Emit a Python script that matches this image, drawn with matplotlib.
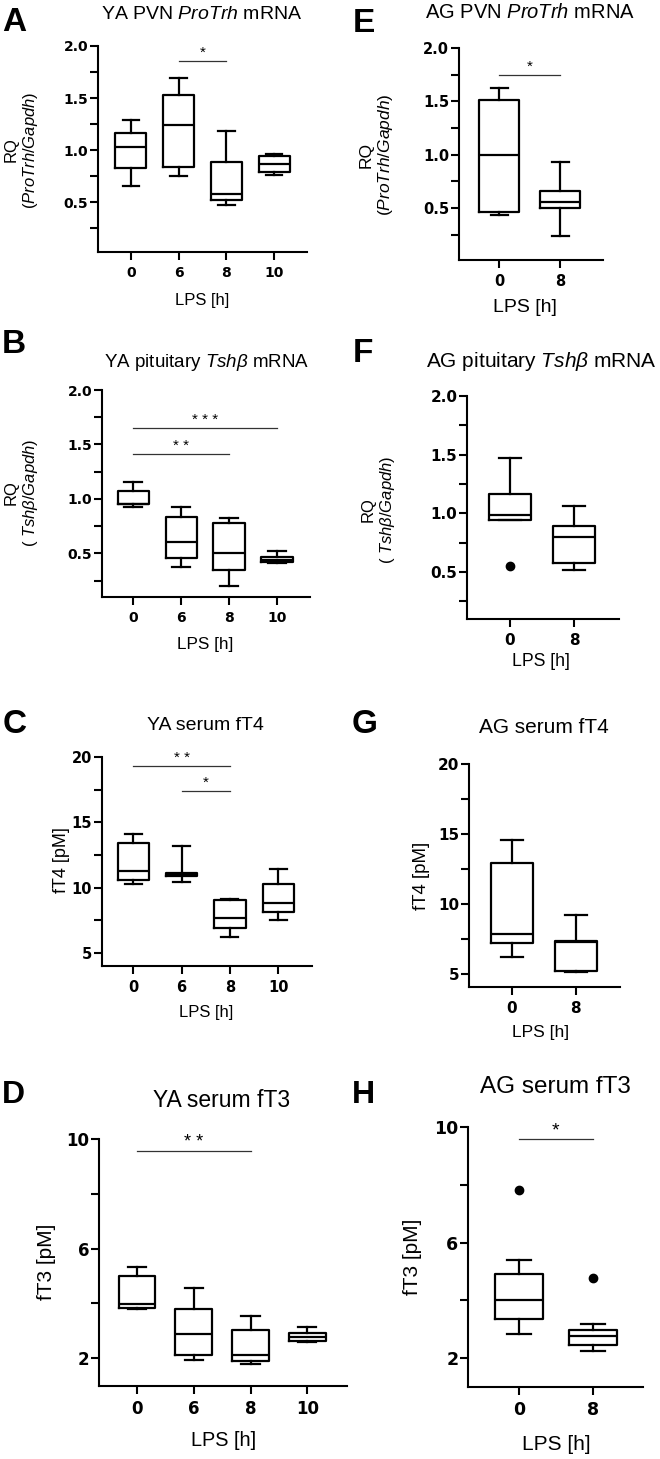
################################################
# LPS time course: ProTrh, Tshb, fT4, fT3
# young adult (YA) vs aged (AG)
################################################
import numpy as np
import matplotlib.pyplot as plt

plt.rcParams['font.family'] = 'Liberation Sans'
plt.rcParams['mathtext.fontset'] = 'custom'
plt.rcParams['mathtext.rm'] = 'Liberation Sans'
plt.rcParams['mathtext.it'] = 'Liberation Sans:italic'

################################################
# Data (box stats per group: whislo, q1, med, q3, whishi)

YA_hours = ["0", "6", "8", "10"]
AG_hours = ["0", "8"]

A_stats = [[0.65, 0.83, 1.03, 1.16, 1.29],
           [0.75, 0.84, 1.24, 1.53, 1.69],
           [0.47, 0.52, 0.575, 0.885, 1.18],
           [0.76, 0.785, 0.87, 0.94, 0.96]]
A_sig = [(1, 2, 1.86, "*")]

B_stats = [[0.93, 0.95, 0.955, 1.07, 1.155],
           [0.375, 0.455, 0.605, 0.83, 0.93],
           [0.205, 0.35, 0.50, 0.775, 0.825],
           [0.413, 0.42, 0.443, 0.47, 0.523]]
B_sig = [(0, 3, 1.65, "* * *"), (0, 2, 1.41, "* *")]

C_stats = [[10.3, 10.55, 11.3, 13.4, 14.1],
           [10.45, 10.9, 11.0, 11.15, 13.2],
           [6.25, 6.9, 7.7, 9.05, 9.15],
           [7.55, 8.1, 8.85, 10.3, 11.45]]
C_sig = [(0, 2, 19.3, "* *"), (1, 2, 17.4, "*")]

D_stats = [[3.8, 3.82, 3.97, 4.99, 5.32],
           [1.94, 2.10, 2.89, 3.81, 4.57],
           [1.77, 1.89, 2.13, 3.01, 3.52],
           [2.58, 2.64, 2.78, 2.90, 3.13]]
D_sig = [(0, 2, 9.57, "* *")]

E_stats = [[0.436, 0.467, 1.0, 1.514, 1.626],
           [0.237, 0.505, 0.555, 0.66, 0.931]]
E_sig = [(0, 1, 1.75, "*")]

F_stats = [[0.946, 0.946, 0.985, 1.164, 1.473],
           [0.52, 0.575, 0.80, 0.892, 1.065]]
F_fliers = [[0.55], []]

G_stats = [[6.17, 7.19, 7.86, 12.9, 14.55],
           [5.10, 5.21, 7.24, 7.31, 9.21]]

H_stats = [[2.85, 3.37, 4.02, 4.91, 5.40],
           [2.24, 2.47, 2.77, 2.98, 3.18]]
H_fliers = [[7.82], [4.76]]
H_sig = [(0, 1, 9.57, "*")]

################################################
# Figure

W, H = 660, 1459
fig = plt.figure(figsize=(W / 100, H / 100), dpi=100)


def fpos(x, y):
    return x / W, 1 - y / H


def panel(frame, xlim, ylim, hours, stats, major, minor, fmt,
          fliers=None, sig=(), capw=0.33, tick_fs=10, star_fs=11):
    l, r, t, b = frame
    ax = fig.add_axes([l / W, 1 - b / H, (r - l) / W, (b - t) / H])
    boxes = []
    for i, s in enumerate(stats):
        boxes.append(dict(whislo=s[0], q1=s[1], med=s[2], q3=s[3],
                          whishi=s[4], fliers=fliers[i] if fliers else []))
    lw = 1.6
    ax.bxp(boxes, positions=range(len(hours)), widths=0.65, capwidths=capw,
           boxprops=dict(color='black', linewidth=lw),
           medianprops=dict(color='black', linewidth=lw),
           whiskerprops=dict(color='black', linewidth=lw),
           capprops=dict(color='black', linewidth=lw),
           flierprops=dict(marker='o', markerfacecolor='black',
                           markeredgecolor='black', markersize=6),
           manage_ticks=False)
    for (i, j, y, s) in sig:
        ax.plot([i, j], [y, y], color='#333333', lw=0.9)
        ax.annotate(s, ((i + j) / 2, y), xytext=(0, 3), textcoords='offset points',
                    ha='center', va='baseline', fontsize=star_fs)
    ax.set_xlim(*xlim)
    ax.set_ylim(*ylim)
    ax.set_xticks(range(len(hours)))
    ax.set_xticklabels(hours)
    ax.set_yticks(major)
    ax.set_yticklabels([fmt % v for v in major])
    ax.set_yticks(minor, minor=True)
    for side in ['top', 'right']:
        ax.spines[side].set_visible(False)
    for side in ['left', 'bottom']:
        ax.spines[side].set_linewidth(1.5)
    ax.tick_params(axis='y', which='both', direction='out', length=6, width=1.5, pad=1)
    ax.tick_params(axis='x', which='both', direction='out', length=6, width=1.5, pad=4)
    for lbl in ax.get_xticklabels() + ax.get_yticklabels():
        lbl.set_fontfamily('DejaVu Sans')
        lbl.set_fontweight('bold')
        lbl.set_fontsize(tick_fs)
    return ax


def labels(letter, letter_xy, letter_fs, title, title_xy, title_fs,
           ylab, ylab_xy, ylab_fs, xlab_xy, xlab_fs):
    fig.text(*fpos(*letter_xy), letter, fontsize=letter_fs, fontweight='bold', va='baseline')
    fig.text(*fpos(*title_xy), title, fontsize=title_fs, ha='center', va='baseline')
    fig.text(*fpos(*ylab_xy), ylab, fontsize=ylab_fs, rotation=90, ha='center',
             va='center', multialignment='center', linespacing=1.15)
    fig.text(*fpos(*xlab_xy), "LPS [h]", fontsize=xlab_fs, ha='center', va='center')


RQ_trh = "RQ\n($\\mathit{ProTrh/Gapdh}$)"
RQ_tsh = "RQ\n( $\\mathit{Tsh\\beta/Gapdh}$)"

# left column: young adults
panel((98, 307, 46, 252), (-0.69, 3.69), (0.02, 2.0), YA_hours, A_stats,
      [0.5, 1.0, 1.5, 2.0], [0.25, 0.75, 1.25, 1.75], "%.1f",
      sig=A_sig, capw=0.35)
labels("A", (2, 31), 24, "YA PVN $\\mathit{ProTrh}$ mRNA", (202, 19), 14,
       RQ_trh, (22, 150), 12, (202, 300), 12)

panel((102, 310, 390, 597), (-0.65, 3.69), (0.1, 2.0), YA_hours, B_stats,
      [0.5, 1.0, 1.5, 2.0], [0.25, 0.75, 1.25, 1.75], "%.1f",
      sig=B_sig, capw=0.38)
labels("B", (2, 353), 24, "YA pituitary $\\mathit{Tsh\\beta}$ mRNA", (207, 367), 13.5,
       RQ_tsh, (22, 493), 12, (205, 645), 12.3)

panel((102, 312, 757, 966), (-0.65, 3.7), (4, 20), YA_hours, C_stats,
      [5, 10, 15, 20], [7.5, 12.5, 17.5], "%d",
      sig=C_sig, capw=0.35, tick_fs=10.5)
labels("C", (3, 733), 24, "YA serum fT4", (205, 730), 14,
       "fT4 [pM]", (62, 860), 13, (206, 1012), 12)

panel((99, 347, 1139, 1386), (-0.67, 3.7), (0.98, 10), YA_hours, D_stats,
      [2, 6, 10], [4, 8], "%d",
      sig=D_sig, capw=0.32, tick_fs=12, star_fs=13)
labels("D", (2, 1103), 23, "YA serum fT3", (222, 1107), 16.5,
       "fT3 [pM]", (47, 1262), 15, (224, 1440), 14.3)

# right column: aged
panel((459, 603, 48, 260), (-0.66, 1.7), (0.014, 2.0), AG_hours, E_stats,
      [0.5, 1.0, 1.5, 2.0], [0.25, 0.75, 1.25, 1.75], "%.1f",
      sig=E_sig, capw=0.28, tick_fs=10.5)
labels("E", (353, 32), 24, "AG PVN $\\mathit{ProTrh}$ mRNA", (530, 18), 14.5,
       RQ_trh, (377, 155), 12.5, (525, 308), 14)

panel((467, 619, 396, 619), (-0.67, 1.7), (0.1, 2.0), AG_hours, F_stats,
      [0.5, 1.0, 1.5, 2.0], [0.25, 0.75, 1.25, 1.75], "%.1f",
      fliers=F_fliers, capw=0.34, tick_fs=11)
labels("F", (353, 362), 24, "AG pituitary $\\mathit{Tsh\\beta}$ mRNA", (541, 367), 15,
       RQ_tsh, (379, 510), 12, (541, 662), 12.7)

panel((469, 620, 764, 987), (-0.67, 1.69), (4.05, 20), AG_hours, G_stats,
      [5, 10, 15, 20], [7.5, 12.5, 17.5], "%d",
      capw=0.34, tick_fs=11)
labels("G", (352, 733), 24, "AG serum fT4", (544, 733), 15,
       "fT4 [pM]", (422, 876), 13.4, (541, 1033), 12.5)

panel((468, 643, 1127, 1387), (-0.69, 1.68), (1.0, 10), AG_hours, H_stats,
      [2, 6, 10], [4, 8], "%d",
      fliers=H_fliers, sig=H_sig, capw=0.32, tick_fs=12.5, star_fs=14)
labels("H", (352, 1103), 23, "AG serum fT3", (555, 1093), 17.5,
       "fT3 [pM]", (412, 1257), 15, (556, 1444), 15)

plt.savefig('out.png', dpi=100)
